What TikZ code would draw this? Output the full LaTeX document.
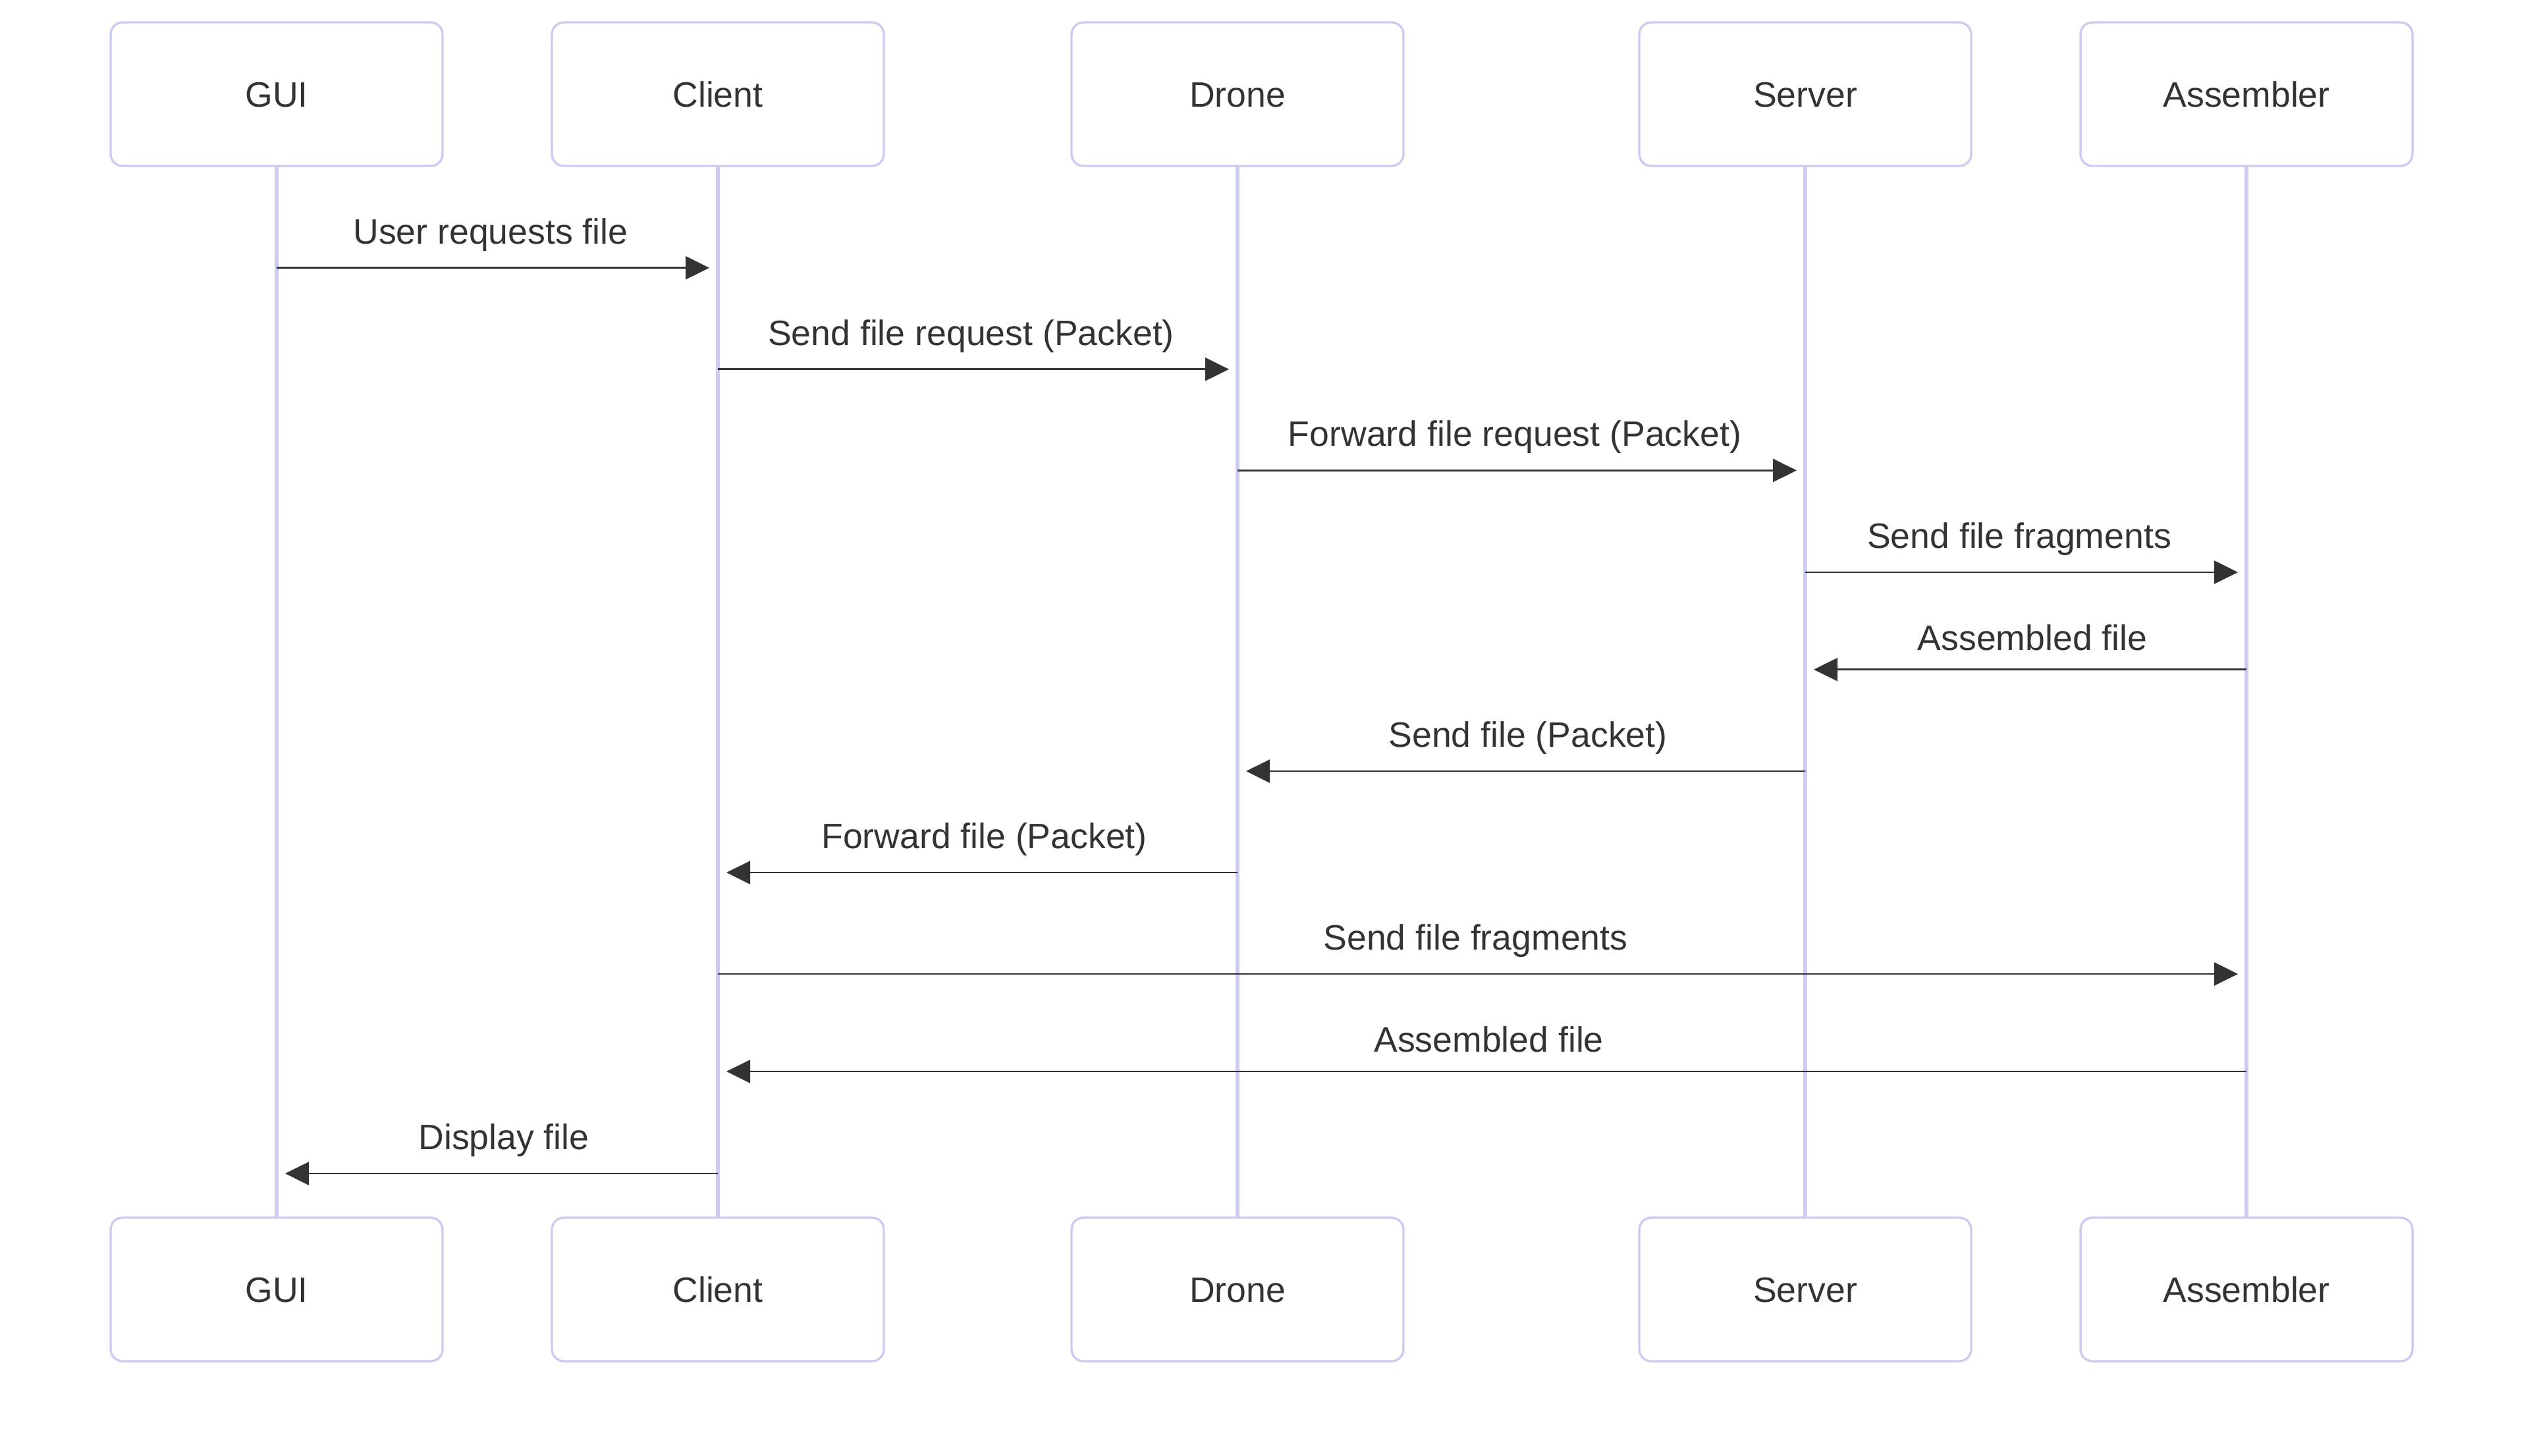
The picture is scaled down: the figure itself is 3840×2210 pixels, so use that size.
\documentclass[tikz,border=0pt]{standalone}
\usepackage{fontspec}
\setmainfont{Liberation Sans}
\usetikzlibrary{arrows.meta,calc}
\definecolor{actorline}{RGB}{204,204,240}
\definecolor{ink}{HTML}{333333}
\begin{document}
\begin{tikzpicture}[x=0.25pt,y=-0.25pt,
  actorbox/.style={draw=actorline,line width=0.85pt,fill=white,rounded corners=4.5pt,
    minimum width=126pt,minimum height=54.5pt,inner sep=0pt,text height=9.6pt,text depth=0pt,
    font=\fontsize{13.4}{16}\selectfont,text=ink},
  lifeline/.style={draw=actorline,line width=1.7pt},
  msgline/.style={draw=ink,line width=0.7pt,-{Triangle[length=9pt,width=8.75pt]}},
  msglabel/.style={anchor=base,inner sep=0pt,font=\fontsize{13.4}{16}\selectfont,text=ink}]
\useasboundingbox (0,0) rectangle (3840,2210);
% lifelines (drawn first)
\coordinate (guiX) at (420,0);
\coordinate (cliX) at (1090,0);
\coordinate (droX) at (1879,0);
\coordinate (serX) at (2741,0);
\coordinate (assX) at (3411,0);
\coordinate (topY) at (0,252);
\coordinate (botY) at (0,1849);
\foreach \n in {gui,cli,dro,ser,ass}{
  \draw[lifeline] (\n X |- topY) -- (\n X |- botY);
}
% actors
\node[actorbox] (guiT) at (420,143) {GUI};
\node[actorbox] (cliT) at (1090,143) {Client};
\node[actorbox] (droT) at (1879,143) {Drone};
\node[actorbox] (serT) at (2741,143) {Server};
\node[actorbox] (assT) at (3411,143) {Assembler};
\node[actorbox] (guiB) at (420,1958) {GUI};
\node[actorbox] (cliB) at (1090,1958) {Client};
\node[actorbox] (droB) at (1879,1958) {Drone};
\node[actorbox] (serB) at (2741,1958) {Server};
\node[actorbox] (assB) at (3411,1958) {Assembler};
% message rows
\coordinate (r1) at (0,406.7);
\coordinate (r2) at (0,560.7);
\coordinate (r3) at (0,714.3);
\coordinate (r4) at (0,869);
\coordinate (r5) at (0,1016.7);
\coordinate (r6) at (0,1171);
\coordinate (r7) at (0,1325);
\coordinate (r8) at (0,1479);
\coordinate (r9) at (0,1627);
\coordinate (r10) at (0,1782);
% messages
\draw[msgline] (guiT |- r1) -- ($(cliT |- r1)+(-13,0)$);
\node[msglabel] (l1) at ($(guiT |- r1)!0.5!(cliT |- r1)+(-10,-36.6)$) {User requests file};
\draw[msgline] (cliT |- r2) -- ($(droT |- r2)+(-13,0)$);
\node[msglabel] (l2) at ($(cliT |- r2)!0.5!(droT |- r2)+(-10,-36.6)$) {Send file request (Packet)};
\draw[msgline] (droT |- r3) -- ($(serT |- r3)+(-13,0)$);
\node[msglabel] (l3) at ($(droT |- r3)!0.5!(serT |- r3)+(-10,-36.6)$) {Forward file request (Packet)};
\draw[msgline] (serT |- r4) -- ($(assT |- r4)+(-13,0)$);
\node[msglabel] (l4) at ($(serT |- r4)!0.5!(assT |- r4)+(-10,-36.6)$) {Send file fragments};
\draw[msgline] (assT |- r5) -- ($(serT |- r5)+(13,0)$);
\node[msglabel] (l5) at ($(assT |- r5)!0.5!(serT |- r5)+(10,-29.7)$) {Assembled file};
\draw[msgline] (serT |- r6) -- ($(droT |- r6)+(13,0)$);
\node[msglabel] (l6) at ($(serT |- r6)!0.5!(droT |- r6)+(10,-36.6)$) {Send file (Packet)};
\draw[msgline] (droT |- r7) -- ($(cliT |- r7)+(13,0)$);
\node[msglabel] (l7) at ($(droT |- r7)!0.5!(cliT |- r7)+(10,-36.6)$) {Forward file (Packet)};
\draw[msgline] (cliT |- r8) -- ($(assT |- r8)+(-13,0)$);
\node[msglabel] (l8) at ($(cliT |- r8)!0.5!(assT |- r8)+(-10,-36.6)$) {Send file fragments};
\draw[msgline] (assT |- r9) -- ($(cliT |- r9)+(13,0)$);
\node[msglabel] (l9) at ($(assT |- r9)!0.5!(cliT |- r9)+(10,-29.7)$) {Assembled file};
\draw[msgline] (cliT |- r10) -- ($(guiT |- r10)+(13,0)$);
\node[msglabel] (l10) at ($(cliT |- r10)!0.5!(guiT |- r10)+(10,-36.6)$) {Display file};
\end{tikzpicture}
\end{document}
